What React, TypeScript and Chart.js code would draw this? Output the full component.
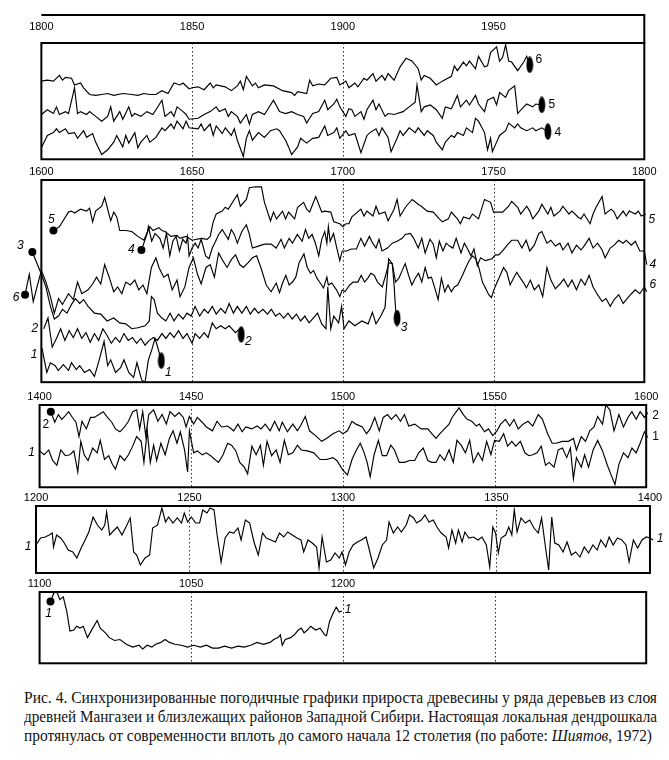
import React, { useEffect, useLayoutEffect, useRef } from "react";
import { Chart, registerables } from "chart.js";

Chart.register(...registerables);

type Pt = [number, number];

// ---------- Panel 1 : 1800–1968 (series 6, 5, 4) ----------
const P1_TICKS = [1800, 1850, 1900, 1950];
const P1_TICK_LABELS = ["1800", "1850", "1900", "1950"];
const P1_GRID = [1850, 1900];
const P1_S6: Pt[] = [[1800,82],[1802,83],[1804,82],[1806,88],[1807,83],[1808,86],[1810,85],[1811,78],[1813,80],[1814,75],[1816,68],[1818,67],[1820,68],[1822,69],[1824,67],[1827,69],[1830,68],[1832,67],[1834,69],[1836,68],[1838,68],[1840,72],[1842,69],[1844,80],[1846,78],[1847,80],[1849,74],[1850,75],[1852,76],[1854,73],[1856,80],[1857,75],[1858,78],[1861,76],[1863,72],[1865,77],[1866,82],[1867,73],[1868,87],[1870,77],[1871,80],[1872,75],[1874,78],[1877,77],[1880,72],[1883,70],[1884,67],[1885,71],[1888,69],[1889,83],[1890,77],[1892,79],[1894,78],[1896,85],[1898,86],[1899,78],[1901,82],[1902,75],[1904,80],[1905,76],[1907,85],[1908,83],[1910,90],[1911,82],[1913,88],[1914,83],[1915,90],[1917,83],[1919,97],[1921,106],[1923,103],[1925,95],[1926,83],[1927,88],[1929,85],[1931,78],[1933,82],[1936,87],[1937,98],[1938,93],[1940,102],[1941,98],[1942,103],[1944,95],[1945,108],[1947,97],[1948,98],[1949,112],[1951,118],[1952,103],[1953,107],[1954,120],[1955,103],[1956,102],[1958,93],[1960,102],[1961,108],[1962,99]];
const P1_S5: Pt[] = [[1800,47],[1802,52],[1804,48],[1805,55],[1806,47],[1808,50],[1809,48],[1811,75],[1812,48],[1813,50],[1815,47],[1816,50],[1818,45],[1820,40],[1822,45],[1823,55],[1824,40],[1826,50],[1827,42],[1829,55],[1830,45],[1831,48],[1833,45],[1835,50],[1837,47],[1838,52],[1840,62],[1841,45],[1843,50],[1844,45],[1845,55],[1847,50],[1848,47],[1849,42],[1852,43],[1854,47],[1856,50],[1858,55],[1859,50],[1861,53],[1862,45],[1863,50],[1865,45],[1866,38],[1868,47],[1869,37],[1870,47],[1872,50],[1874,47],[1875,52],[1877,62],[1879,50],[1881,48],[1883,50],[1885,47],[1887,45],[1888,38],[1890,48],[1892,50],[1894,62],[1895,52],[1897,58],[1898,63],[1899,55],[1901,45],[1902,53],[1903,52],[1904,45],[1906,50],[1907,42],[1908,52],[1910,62],[1911,52],[1912,58],[1914,45],[1915,48],[1917,47],[1920,50],[1922,55],[1924,60],[1924.6,78],[1926,50],[1927,55],[1929,57],[1931,52],[1933,43],[1934,55],[1936,53],[1938,67],[1939,55],[1941,62],[1942,57],[1944,67],[1945,58],[1947,50],[1948,62],[1950,65],[1951,57],[1952,70],[1954,65],[1955,72],[1957,77],[1958,48],[1960,55],[1961,58],[1963,55],[1964,58],[1966,57]];
const P1_S4: Pt[] = [[1800,12],[1802,25],[1804,28],[1805,32],[1806,28],[1808,32],[1809,27],[1811,28],[1812,22],[1814,30],[1815,23],[1817,27],[1818,18],[1820,5],[1822,10],[1824,18],[1825,25],[1827,13],[1828,25],[1829,17],[1831,28],[1832,12],[1833,18],[1835,25],[1836,18],[1838,23],[1840,33],[1841,30],[1843,37],[1844,32],[1845,40],[1847,32],[1848,40],[1849,33],[1852,32],[1853,37],[1854,30],[1856,37],[1857,25],[1858,35],[1860,27],[1861,33],[1863,25],[1864,32],[1865,20],[1867,3],[1868,22],[1869,30],[1870,20],[1872,28],[1874,23],[1876,30],[1878,32],[1879,30],[1881,20],[1882,13],[1883,5],[1885,13],[1886,22],[1888,17],[1890,22],[1892,23],[1894,35],[1895,25],[1897,28],[1898,33],[1899,22],[1901,30],[1902,25],[1904,27],[1906,7],[1908,25],[1909,28],[1911,32],[1912,25],[1913,33],[1915,23],[1916,8],[1918,22],[1919,30],[1920,25],[1922,33],[1924,28],[1925,33],[1927,25],[1928,30],[1930,25],[1931,18],[1933,10],[1934,18],[1936,25],[1937,23],[1938,28],[1940,25],[1941,33],[1943,28],[1944,43],[1945,40],[1947,28],[1948,10],[1949,22],[1949.6,8],[1951,18],[1952,25],[1954,30],[1955,38],[1957,33],[1958,37],[1959,33],[1961,30],[1963,33],[1964,30],[1966,33],[1968,29]];

// ---------- Panel 2 : 1600–1800 (series 5, 4, 6, 3, 2, 1) ----------
const P2_TICKS = [1600, 1650, 1700, 1750, 1800];
const P2_TICK_LABELS = ["1600", "1650", "1700", "1750", "1800"];
const P2_GRID = [1650, 1700, 1750];
const P2_S5: Pt[] = [[1604,156],[1606,160],[1607,165],[1609,175],[1610,176],[1611,174],[1613,178],[1615,176],[1616,179],[1617,165],[1618,176],[1620,181],[1621,190],[1623,166],[1624,175],[1625,170],[1626,156],[1628,156],[1630,155],[1632,150],[1634,146],[1636,160],[1637,156],[1639,159],[1640,156],[1641,155],[1643,150],[1645,151],[1646,148],[1648,150],[1650,146],[1653,148],[1655,147],[1656,150],[1657,165],[1658,173],[1660,176],[1661,180],[1662,178],[1664,188],[1665,193],[1666,181],[1668,188],[1669,200],[1671,201],[1673,201],[1674,185],[1676,166],[1677,175],[1678,168],[1680,176],[1681,168],[1682,175],[1684,168],[1685,180],[1687,185],[1688,178],[1689,175],[1691,191],[1693,175],[1694,176],[1696,175],[1697,165],[1699,163],[1700,160],[1701,163],[1702,163],[1703,170],[1706,178],[1707,171],[1708,176],[1710,171],[1711,181],[1712,173],[1714,175],[1715,166],[1717,178],[1718,188],[1719,171],[1721,181],[1723,188],[1725,183],[1726,181],[1728,176],[1730,175],[1732,168],[1733,165],[1735,168],[1736,175],[1738,168],[1739,163],[1740,170],[1742,168],[1743,173],[1745,168],[1747,188],[1749,185],[1750,175],[1751,175],[1753,175],[1755,181],[1756,186],[1758,180],[1759,173],[1761,181],[1762,176],[1763,168],[1765,176],[1766,183],[1768,173],[1769,180],[1770,171],[1772,176],[1773,181],[1775,173],[1776,176],[1778,170],[1779,168],[1780,173],[1782,163],[1783,173],[1784,180],[1786,191],[1787,173],[1789,178],[1790,175],[1791,168],[1793,176],[1794,171],[1795,176],[1797,173],[1798,176],[1799,171],[1800.5,173]];
const P2_S4: Pt[] = [[1633.2,136],[1635,152],[1635.5,160],[1636.6,145],[1637.7,153],[1639.3,148],[1640.4,138],[1641.5,153],[1642.6,130],[1643.6,145],[1644.7,150],[1645.8,135],[1646.9,147],[1648,143],[1648.5,150],[1649,130],[1650,138],[1651,143],[1652,138],[1653,147],[1654.5,130],[1655.6,127],[1656.7,138],[1657.8,145],[1658.8,152],[1660,157],[1661,152],[1662,147],[1663,157],[1664,152],[1665,143],[1666.5,155],[1668,162],[1669,152],[1670,138],[1672,140],[1674,142],[1676.2,142],[1677.9,138],[1679.5,147],[1680.6,138],[1682.2,148],[1683.3,143],[1684.9,152],[1686.5,145],[1687.6,157],[1688.7,148],[1689.8,152],[1690.9,143],[1692,130],[1693,147],[1694,155],[1694.7,143],[1695.2,160],[1695.8,145],[1696.9,153],[1698,138],[1699,125],[1699.8,135],[1701.2,135],[1702.8,137],[1704.5,137],[1706,148],[1707.2,140],[1708.8,150],[1709.9,143],[1711,138],[1712,147],[1713,135],[1714.8,138],[1716.4,143],[1718,145],[1719.7,148],[1720.7,152],[1722.4,153],[1723.5,148],[1725,138],[1726.2,148],[1727.3,133],[1728.9,147],[1730,142],[1731,128],[1732,145],[1733.2,135],[1734.3,143],[1735.4,140],[1736.5,138],[1737.6,148],[1739.2,133],[1740.3,143],[1741.4,137],[1742.5,130],[1743.5,137],[1744.6,120],[1745.7,128],[1747.3,125],[1749.5,127],[1750.6,131],[1751.7,131],[1753,135],[1754.5,141],[1756,146],[1758,146],[1759.4,138],[1760.8,146],[1762,135],[1763.5,141],[1765,153],[1766,155],[1767.7,143],[1769,146],[1770.5,140],[1772,143],[1773,136],[1774.7,143],[1776,133],[1777.5,141],[1779,136],[1780,140],[1781.7,148],[1783,138],[1784.5,143],[1786,136],[1787,128],[1788.7,138],[1790,141],[1791.5,146],[1793,143],[1794,146],[1795.7,141],[1797,145],[1798.5,135],[1800,135],[1800.8,121]];
const P2_S6: Pt[] = [[1594.6,90],[1596,111],[1597.3,83],[1600,115],[1601.5,103],[1603,88],[1604.3,71],[1605.7,86],[1607,80],[1609,91],[1610.6,85],[1612,103],[1613.4,91],[1615.5,95],[1617,101],[1618.3,108],[1619.7,101],[1621,121],[1622.5,108],[1624,93],[1625.3,98],[1626.7,91],[1628,103],[1629.5,100],[1631,105],[1632.3,95],[1633.7,100],[1635,91],[1636.5,118],[1638,128],[1639,118],[1640.6,108],[1642,111],[1643.4,95],[1645,105],[1646,88],[1647.6,98],[1649,118],[1650.4,128],[1651.8,111],[1653,101],[1654.6,118],[1656,121],[1657.4,108],[1658.8,133],[1660.2,125],[1661.6,118],[1663,126],[1664.4,131],[1665.8,121],[1667,118],[1668.6,123],[1670,128],[1671.4,130],[1672.8,118],[1674.6,100],[1676.2,93],[1677.9,102],[1679,92],[1680,102],[1681.1,110],[1682.2,100],[1683.3,103],[1684.4,108],[1685.5,123],[1687.1,132],[1688.2,118],[1689.3,112],[1690.3,115],[1691.4,107],[1692.5,102],[1693.6,97],[1694.7,108],[1695.2,100],[1696.3,102],[1697.9,95],[1699,88],[1699.8,95],[1700.7,93],[1702.3,100],[1703.4,103],[1705,103],[1706.1,110],[1707.2,103],[1708.3,107],[1709.3,112],[1710.4,110],[1711.5,103],[1713.1,98],[1714.2,110],[1715.3,123],[1716.4,122],[1717.5,103],[1718.6,107],[1719.7,115],[1720.7,122],[1721.8,110],[1722.9,100],[1724,107],[1725.1,112],[1726.2,103],[1727.3,118],[1728.3,107],[1729.4,108],[1730.5,97],[1731.6,85],[1732.7,107],[1733.8,93],[1734.9,100],[1736,93],[1737,98],[1738.1,100],[1739.7,110],[1740.8,118],[1741.9,125],[1743,130],[1744.1,127],[1745.2,117],[1746.3,103],[1747.3,97],[1748.4,90],[1749.3,87],[1750.1,95],[1751.2,103],[1752.2,110],[1753.3,118],[1754.4,113],[1755.5,100],[1756.6,107],[1757.7,113],[1758.7,108],[1759.8,103],[1760.9,97],[1762.2,105],[1763.5,95],[1765,100],[1766.3,88],[1767.7,118],[1769,105],[1770.5,96],[1772,101],[1773.3,106],[1774.7,98],[1776,105],[1777.5,95],[1779,106],[1780.3,100],[1781.7,110],[1783,98],[1784.5,90],[1786,83],[1787.3,86],[1788.7,78],[1790,85],[1791.5,90],[1793,81],[1794.3,86],[1795.7,91],[1797,95],[1798.5,91],[1800,98],[1800.8,93]];
const P2_S3: Pt[] = [[1597,134],[1598.7,121],[1600,111],[1601.5,98],[1603,78],[1604.3,65],[1605.7,68],[1607,75],[1608.5,71],[1610,80],[1611.3,86],[1612.7,81],[1614,85],[1615.5,78],[1617.6,71],[1619.7,70],[1621.8,63],[1624,66],[1626,61],[1628,60],[1630,55],[1632,56],[1634.4,58],[1635.8,63],[1636.5,88],[1637.4,85],[1638.5,71],[1640,66],[1641.3,63],[1642.7,71],[1644,63],[1645.5,70],[1647,65],[1648.3,71],[1649.7,68],[1651,78],[1652.5,68],[1654,75],[1655.3,71],[1656.7,78],[1658,70],[1659.5,76],[1661,71],[1662.3,81],[1663.7,71],[1665,78],[1666.5,71],[1668,78],[1669.3,70],[1670.7,76],[1672,71],[1673.5,75],[1675,70],[1676.3,75],[1677.7,68],[1679,71],[1680.4,66],[1681.8,71],[1683.2,65],[1684.6,70],[1686,63],[1687.4,68],[1688.8,61],[1690.2,66],[1691.6,71],[1693,60],[1694.4,55],[1695,98],[1696,55],[1697,68],[1698.6,61],[1699.6,78],[1700.4,55],[1702,63],[1704,58],[1706.3,63],[1708.4,60],[1709.8,72],[1711,60],[1712.6,68],[1714,77],[1715.2,127],[1716.4,122],[1717,100],[1717.5,75],[1718,66]];
const P2_S2: Pt[] = [[1600.8,55],[1602.2,66],[1603.6,36],[1605,45],[1606.4,55],[1607.8,43],[1609.2,53],[1610.6,46],[1612,55],[1613.4,45],[1614.8,51],[1616.2,41],[1617.6,50],[1619,43],[1620.4,55],[1621.8,48],[1623.2,40],[1624.6,46],[1626,41],[1627.4,50],[1628.8,43],[1630.2,46],[1631.6,40],[1633,45],[1634.4,38],[1635.8,43],[1637.2,46],[1638.5,43],[1640,50],[1641.3,45],[1642.7,51],[1644,46],[1645.5,53],[1647,45],[1648.3,50],[1650,40],[1651,50],[1652.5,45],[1654,51],[1655.3,46],[1656.7,61],[1658,55],[1659.5,58],[1661,55],[1662.3,58],[1664.4,51],[1665.8,55],[1666.3,49]];
const P2_S1: Pt[] = [[1600.2,35],[1601.8,10],[1603,20],[1604.6,17],[1605.6,12],[1607.3,18],[1609,12],[1610,20],[1611.6,13],[1612.7,17],[1614.3,10],[1616,13],[1617.6,6],[1619.2,23],[1620.8,42],[1622,17],[1623,23],[1624.6,10],[1626.3,15],[1627.4,23],[1629,10],[1630.6,5],[1631.7,20],[1633.3,2],[1634.4,0],[1635.5,23],[1636.6,33],[1637.7,45],[1638.4,38],[1639.8,22]];

// ---------- Panel 3 : 1400–1600 (series 2, 1) ----------
const P3_TICKS = [1400, 1450, 1500, 1550, 1600];
const P3_TICK_LABELS = ["1400", "1450", "1500", "1550", "1600"];
const P3_GRID = [1450, 1500, 1550];
const P3_S2: Pt[] = [[1403.7,79],[1405,68],[1406.2,76],[1407.3,71],[1408.5,75],[1409.6,79],[1410.6,74],[1412,68],[1413,53],[1414,69],[1415.4,61],[1416.8,73],[1418,73],[1419.6,76],[1421,79],[1422.4,73],[1423.8,68],[1425,61],[1426.5,58],[1428,63],[1429.3,69],[1430.7,79],[1432,81],[1433,61],[1434,79],[1435,54],[1436,76],[1437.6,81],[1439,69],[1440.4,76],[1441.8,66],[1443,79],[1444.6,74],[1446,78],[1447.4,73],[1448.3,63],[1449.4,74],[1450.8,66],[1452,73],[1453.6,68],[1455,63],[1457,59],[1458.5,69],[1460,63],[1462,64],[1464,59],[1465.4,66],[1466.8,58],[1468,63],[1470,61],[1471.7,64],[1473,61],[1474.4,66],[1476,59],[1477.5,69],[1479,59],[1480,68],[1481.7,58],[1483.5,66],[1485,59],[1486,64],[1487.6,74],[1489,59],[1491,54],[1493,48],[1494.6,51],[1496.7,56],[1498.8,59],[1500,56],[1501.5,59],[1503,69],[1504.3,66],[1506.4,63],[1507.8,56],[1509,61],[1510.5,73],[1512,59],[1513.3,73],[1514.7,76],[1516,71],[1517.5,76],[1519,69],[1520.3,76],[1521.7,64],[1523.7,66],[1525.8,61],[1528,61],[1529.3,56],[1530.7,51],[1532,56],[1533.5,61],[1535,66],[1536,73],[1538.3,83],[1539.7,76],[1541,71],[1542.5,69],[1544,64],[1545,66],[1546.7,58],[1548,61],[1549.4,54],[1550.8,59],[1552,66],[1553.6,71],[1555,64],[1556.4,71],[1557.8,61],[1559.4,66],[1561,69],[1562.6,64],[1564.4,76],[1565.8,71],[1567.5,56],[1569,46],[1570.3,46],[1572.4,48],[1574.4,48],[1576,51],[1577,39],[1578.6,53],[1580,48],[1581.4,59],[1582.8,63],[1584,74],[1585.6,66],[1586.7,86],[1588,81],[1589.4,59],[1591,76],[1592.5,63],[1594,73],[1595.3,79],[1596.7,71],[1598,79],[1599.4,73],[1600.5,78]];
const P3_S1: Pt[] = [[1400,38],[1401.5,34],[1403,39],[1404.3,28],[1405.7,23],[1407,39],[1408.5,33],[1410,34],[1411.3,38],[1412.6,16],[1413.6,48],[1414.7,34],[1416,28],[1417.5,41],[1419,36],[1420,49],[1421.4,29],[1422.8,33],[1424,24],[1425,19],[1426.5,33],[1428,28],[1429.3,34],[1430.7,43],[1432,53],[1433.5,48],[1434.4,26],[1435.5,59],[1436.5,26],[1437.6,44],[1438.6,28],[1440,46],[1441.4,34],[1442.8,51],[1444,59],[1445.3,46],[1446.4,58],[1447.8,39],[1448.8,16],[1449.4,59],[1450.8,36],[1452,38],[1453.6,34],[1455,36],[1456.4,33],[1457.8,29],[1459,26],[1460.5,34],[1462,46],[1463.3,44],[1464.7,38],[1466,26],[1467.5,21],[1468.6,14],[1470,43],[1471.4,34],[1472.8,44],[1473.8,23],[1475,48],[1476.5,33],[1478,39],[1479.3,26],[1480.7,49],[1482,34],[1483.5,36],[1485,44],[1486.3,39],[1488.3,38],[1490.4,36],[1492.5,29],[1494.6,29],[1496.7,31],[1498,28],[1500,18],[1501.5,13],[1503,29],[1504.3,38],[1505.7,46],[1506.8,38],[1508,26],[1509,11],[1510.3,34],[1511.7,49],[1513,33],[1514.4,33],[1515.8,44],[1517,39],[1518.6,26],[1520.3,26],[1522,28],[1523.7,28],[1525,36],[1526.5,41],[1528,28],[1529.3,26],[1530.7,26],[1532,34],[1533.5,28],[1535,39],[1536.4,26],[1537.6,49],[1539,44],[1540.4,36],[1541.8,49],[1543,26],[1544.6,36],[1546,28],[1547.4,48],[1548.8,34],[1550,49],[1551.6,48],[1553,56],[1554.3,43],[1555.7,48],[1557,43],[1558.5,48],[1560,36],[1561.3,33],[1562.6,34],[1564,36],[1565.4,43],[1566.8,23],[1568,26],[1569.6,21],[1571,39],[1572.4,41],[1573.8,31],[1575,41],[1576,9],[1577,31],[1578.6,21],[1579.7,34],[1581,21],[1582.5,39],[1584,49],[1585.6,38],[1587.2,23],[1588.3,14],[1589.7,3],[1591,24],[1592.5,36],[1594,31],[1595.3,41],[1596.7,36],[1598,46],[1599.4,58],[1600.5,52]];

// ---------- Panel 4 : 1200–1400 (series 1) ----------
const P4_TICKS = [1200, 1250, 1300, 1350, 1400];
const P4_TICK_LABELS = ["1200", "1250", "1300", "1350", "1400"];
const P4_GRID = [1250, 1300, 1350];
const P4_S1: Pt[] = [[1200,28],[1201.5,35],[1203,36],[1204.3,38],[1205.3,40],[1205.7,26],[1206.7,38],[1208,35],[1209,31],[1210.5,23],[1212,21],[1213.3,15],[1214.7,25],[1216,33],[1217.2,41],[1218.6,56],[1220,48],[1221.4,43],[1222.4,48],[1223,61],[1224,38],[1225.5,43],[1226.5,46],[1228,38],[1229.3,46],[1230.7,55],[1231.8,21],[1232.8,18],[1234,8],[1235.5,15],[1237,18],[1238,45],[1239.6,48],[1241,65],[1242.2,51],[1243.2,56],[1244.6,50],[1246,55],[1247.4,50],[1248.3,60],[1249.4,51],[1250.6,56],[1252,50],[1253.3,50],[1254.3,63],[1255.7,60],[1256.7,65],[1258,63],[1259,38],[1260.3,11],[1261.6,35],[1263,41],[1264.4,40],[1265.8,45],[1266.8,33],[1268.2,53],[1269.6,50],[1271,31],[1272.4,18],[1273.8,40],[1275,35],[1276.5,33],[1278,31],[1279.3,40],[1280.7,36],[1282,41],[1283.5,38],[1285,35],[1286.3,33],[1287.2,21],[1288.6,33],[1290,30],[1291.4,26],[1292.2,5],[1293.2,36],[1294.6,11],[1296,13],[1297.4,20],[1298.8,15],[1299.7,21],[1300.8,8],[1302,21],[1303.3,28],[1304.7,31],[1306,33],[1307.5,36],[1308.6,23],[1310,5],[1311.4,15],[1312.8,28],[1314.2,33],[1315,51],[1316.4,40],[1317.8,46],[1319,41],[1320.6,48],[1321.7,58],[1323,55],[1324,50],[1325.5,53],[1326.7,58],[1328,51],[1329.4,53],[1330.8,45],[1332,40],[1333.6,36],[1334.4,25],[1335.5,43],[1336.7,30],[1337.6,43],[1338.8,31],[1339.7,41],[1341,35],[1342.5,36],[1344,33],[1345.3,36],[1346.7,28],[1347.8,6],[1348.8,46],[1349.7,40],[1350.6,20],[1351.5,35],[1353,38],[1354,46],[1355,38],[1355.8,63],[1356.7,41],[1358,55],[1359.4,50],[1360.8,53],[1362.2,45],[1363.6,40],[1364.7,55],[1366,25],[1367,3],[1368,56],[1369,30],[1370.3,28],[1371.7,21],[1373,31],[1374.4,18],[1375.8,21],[1377.2,16],[1378.6,26],[1380,20],[1381.4,28],[1382.8,23],[1384,33],[1385.6,26],[1386.7,36],[1388,28],[1389.4,35],[1390.8,33],[1392.2,28],[1393.2,11],[1394.6,33],[1396,25],[1397.4,33],[1398.8,36],[1400,35],[1401,33]];

// ---------- Panel 5 : 1100–1200 (series 1) ----------
const P5_TICKS = [1100, 1150, 1200];
const P5_TICK_LABELS = ["1100", "1050", "1200"];
const P5_GRID = [1150, 1200, 1250];
const P5_S1: Pt[] = [[1103.6,65],[1104.7,74],[1105.7,75],[1106.7,67],[1107.8,70],[1109,54],[1110,34],[1111.3,35],[1112.2,39],[1113.3,37],[1114.4,39],[1115.8,27],[1117.5,37],[1119,45],[1120,37],[1121.7,32],[1123,27],[1124.7,24],[1126.5,25],[1128.6,20],[1130.7,17],[1132.8,19],[1134,15],[1135.5,19],[1137,17],[1138.3,20],[1140,22],[1141.4,25],[1142.8,22],[1144.6,20],[1146.7,19],[1148.8,17],[1150.8,19],[1153,17],[1155,19],[1157,16],[1159,16],[1161,18],[1163.3,16],[1165.4,18],[1167.5,17],[1169.6,19],[1171.7,22],[1173.8,20],[1176,22],[1177.2,25],[1178.6,27],[1179.4,30],[1180,19],[1181,25],[1182.8,27],[1184,30],[1185.3,35],[1186.3,37],[1187.2,32],[1188.3,35],[1189.4,39],[1191,35],[1192.5,37],[1194,30],[1194.6,29],[1195.6,44],[1196.7,52],[1197.8,59],[1198.8,54],[1199.7,55]];

const CAPTION_1 = "Рис. 4. Синхронизированные погодичные графики прироста древесины у ряда деревьев из слоя";
const CAPTION_2 = "древней Мангазеи и близлежащих районов Западной Сибири. Настоящая локальная дендрошкала";
const CAPTION_3A = "протянулась от современности вплоть до самого начала 12 столетия (по работе: ";
const CAPTION_3B = "Шиятов";
const CAPTION_3C = ", 1972)";

// ---------- layout / style config ----------
interface SeriesCfg { data: Pt[]; startDot?: boolean; endEllipse?: boolean }
interface LabelCfg { series: number; at: "start" | "end"; dx: number; dy: number; text: string; italic: boolean }
interface PanelCfg {
  start: number; ticks: number[]; tickLabels: string[]; grid: number[];
  series: SeriesCfg[]; labels: LabelCfg[];
  frameTop: number; frameHeight: number; axisHeight: number; tickPadding: number; header?: number;
}

const SPAN = 200;
const LEFT_PAD_YEARS = 11.73;
const RIGHT_PAD_YEARS = 6.2;
const BOTTOM_EXTRA = 6;
const W = 669;

const PANELS: PanelCfg[] = [
  {
    start: 1800, ticks: P1_TICKS, tickLabels: P1_TICK_LABELS, grid: P1_GRID,
    series: [{ data: P1_S6, endEllipse: true }, { data: P1_S5, endEllipse: true }, { data: P1_S4, endEllipse: true }],
    labels: [
      { series: 0, at: "end", dx: 9, dy: -5, text: "6", italic: false },
      { series: 1, at: "end", dx: 10, dy: 0, text: "5", italic: false },
      { series: 2, at: "end", dx: 10, dy: 1, text: "4", italic: false },
    ],
    frameTop: 43, frameHeight: 122, axisHeight: 33, tickPadding: 9, header: 28,
  },
  {
    start: 1600, ticks: P2_TICKS, tickLabels: P2_TICK_LABELS, grid: P2_GRID,
    series: [
      { data: P2_S5, startDot: true }, { data: P2_S4, startDot: true }, { data: P2_S6, startDot: true },
      { data: P2_S3, startDot: true, endEllipse: true }, { data: P2_S2, endEllipse: true }, { data: P2_S1, endEllipse: true },
    ],
    labels: [
      { series: 0, at: "start", dx: -2, dy: -11, text: "5", italic: true },
      { series: 0, at: "end", dx: 6, dy: 6, text: "5", italic: true },
      { series: 1, at: "start", dx: -10, dy: 0, text: "4", italic: true },
      { series: 1, at: "end", dx: 6, dy: 0, text: "4", italic: true },
      { series: 2, at: "start", dx: -9, dy: 3, text: "6", italic: true },
      { series: 2, at: "end", dx: 6, dy: -7, text: "6", italic: true },
      { series: 3, at: "start", dx: -12, dy: -6, text: "3", italic: true },
      { series: 3, at: "end", dx: 7, dy: 10, text: "3", italic: true },
      { series: 4, at: "start", dx: -9, dy: 0, text: "2", italic: true },
      { series: 4, at: "end", dx: 7, dy: 7, text: "2", italic: true },
      { series: 5, at: "start", dx: -8, dy: 7, text: "1", italic: true },
      { series: 5, at: "end", dx: 7, dy: 12, text: "1", italic: true },
    ],
    frameTop: 180, frameHeight: 208, axisHeight: 18, tickPadding: 1,
  },
  {
    start: 1400, ticks: P3_TICKS, tickLabels: P3_TICK_LABELS, grid: P3_GRID,
    series: [{ data: P3_S2, startDot: true }, { data: P3_S1 }],
    labels: [
      { series: 0, at: "start", dx: -5, dy: 13, text: "2", italic: false },
      { series: 0, at: "end", dx: 8, dy: 3, text: "2", italic: false },
      { series: 1, at: "start", dx: -8, dy: 2, text: "1", italic: true },
      { series: 1, at: "end", dx: 8, dy: -1, text: "1", italic: false },
    ],
    frameTop: 405, frameHeight: 86, axisHeight: 18, tickPadding: 1,
  },
  {
    start: 1200, ticks: P4_TICKS, tickLabels: P4_TICK_LABELS, grid: P4_GRID,
    series: [{ data: P4_S1 }],
    labels: [
      { series: 0, at: "start", dx: -8, dy: 2, text: "1", italic: true },
      { series: 0, at: "end", dx: 7, dy: -1, text: "1", italic: true },
    ],
    frameTop: 506, frameHeight: 67, axisHeight: 18, tickPadding: 1,
  },
  {
    start: 1100, ticks: P5_TICKS, tickLabels: P5_TICK_LABELS, grid: P5_GRID,
    series: [{ data: P5_S1, startDot: true }],
    labels: [
      { series: 0, at: "start", dx: -2, dy: 12, text: "1", italic: true },
      { series: 0, at: "end", dx: 6, dy: -1, text: "1", italic: true },
    ],
    frameTop: 592, frameHeight: 75, axisHeight: 18, tickPadding: 1,
  },
];

let ellipseImg: HTMLCanvasElement | null = null;
function getEllipse(): HTMLCanvasElement {
  if (ellipseImg) return ellipseImg;
  const c = document.createElement("canvas");
  c.width = 8; c.height = 17;
  const ctx = c.getContext("2d")!;
  ctx.fillStyle = "#000";
  ctx.beginPath();
  ctx.ellipse(4, 8.5, 3.4, 8.2, 0, 0, Math.PI * 2);
  ctx.fill();
  ellipseImg = c;
  return c;
}

function Panel({ cfg }: { cfg: PanelCfg }) {
  const ref = useRef<HTMLCanvasElement>(null);
  const height = cfg.axisHeight + cfg.frameHeight + BOTTOM_EXTRA;
  const top = cfg.frameTop - cfg.axisHeight;

  useEffect(() => {
    if (!ref.current) return;
    const ell = getEllipse();
    const datasets = cfg.series.map((s) => {
      const n = s.data.length;
      return {
        data: s.data.map(([x, y]) => ({ x, y })),
        borderColor: "#000",
        borderWidth: 1.15,
        tension: 0,
        clip: false as const,
        pointBackgroundColor: "#000",
        pointBorderColor: "#000",
        pointBorderWidth: 0,
        pointRadius: (c: any) => (c.dataIndex === 0 && s.startDot ? 4 : c.dataIndex === n - 1 && s.endEllipse ? 6 : 0),
        pointStyle: (c: any) => (c.dataIndex === n - 1 && s.endEllipse ? ell : "circle"),
      };
    });

    const decor = {
      id: "decor",
      beforeDatasetsDraw(chart: any) {
        const { ctx } = chart;
        const xs = chart.scales.x, ys = chart.scales.y;
        const yt = ys.getPixelForValue(cfg.frameHeight), yb = ys.getPixelForValue(0);
        ctx.save();
        ctx.strokeStyle = "#333";
        ctx.lineWidth = 1;
        ctx.setLineDash([1.5, 2.5]);
        for (const g of cfg.grid) {
          const x = Math.round(xs.getPixelForValue(g)) + 0.5;
          ctx.beginPath(); ctx.moveTo(x, yt); ctx.lineTo(x, yb); ctx.stroke();
        }
        ctx.restore();
      },
      afterDatasetsDraw(chart: any) {
        const { ctx } = chart;
        const xs = chart.scales.x, ys = chart.scales.y;
        const yt = ys.getPixelForValue(cfg.frameHeight), yb = ys.getPixelForValue(0);
        const xl = xs.getPixelForValue(cfg.start), xr = xs.getPixelForValue(cfg.start + SPAN);
        ctx.save();
        ctx.strokeStyle = "#000";
        ctx.lineWidth = 2;
        ctx.strokeRect(xl, yt, xr - xl, yb - yt);
        if (cfg.header) {
          ctx.beginPath();
          ctx.moveTo(xl, yt - cfg.header);
          ctx.lineTo(xr, yt - cfg.header);
          ctx.lineTo(xr, yt);
          ctx.stroke();
        }
        ctx.fillStyle = "#000";
        ctx.textAlign = "center";
        ctx.textBaseline = "middle";
        for (const l of cfg.labels) {
          const meta = chart.getDatasetMeta(l.series);
          const el = meta.data[l.at === "start" ? 0 : meta.data.length - 1];
          ctx.font = `${l.italic ? "italic " : ""}12px 'Liberation Sans', Arial, sans-serif`;
          ctx.fillText(l.text, el.x + l.dx, el.y + l.dy);
        }
        ctx.restore();
      },
    };

    const chart = new Chart(ref.current, {
      type: "line",
      data: { datasets },
      options: {
        responsive: false,
        animation: false,
        events: [],
        layout: { padding: 0 },
        plugins: { legend: { display: false }, tooltip: { enabled: false } },
        scales: {
          x: {
            type: "linear",
            position: "top",
            min: cfg.start - LEFT_PAD_YEARS,
            max: cfg.start + SPAN + RIGHT_PAD_YEARS,
            grid: { display: false, drawTicks: false },
            border: { display: false },
            ticks: {
              autoSkip: false,
              maxRotation: 0,
              padding: cfg.tickPadding,
              color: "#000",
              font: { family: "'Liberation Sans', Arial, sans-serif", size: 11 },
              callback: (_v: any, i: number) => cfg.tickLabels[i],
            },
            afterBuildTicks: (axis: any) => {
              axis.ticks = cfg.ticks.map((v) => ({ value: v }));
            },
            afterFit: (axis: any) => {
              axis.height = cfg.axisHeight;
            },
          },
          y: {
            type: "linear",
            display: false,
            min: -BOTTOM_EXTRA,
            max: cfg.frameHeight,
          },
        },
      } as any,
      plugins: [decor],
    });
    return () => chart.destroy();
  }, [cfg]);

  return (
    <canvas
      ref={ref}
      width={W}
      height={height}
      style={{ position: "absolute", left: 0, top, width: W, height }}
    />
  );
}

function CaptionLine({ top, width, children }: { top: number; width: number; children: React.ReactNode }) {
  const ref = useRef<HTMLSpanElement>(null);
  useLayoutEffect(() => {
    const el = ref.current;
    if (!el) return;
    el.style.transform = "none";
    const w = el.getBoundingClientRect().width;
    if (w > 0) el.style.transform = `scaleX(${width / w})`;
  }, [width]);
  return (
    <div style={{ position: "absolute", left: 24, top, whiteSpace: "nowrap", lineHeight: "19px" }}>
      <span
        ref={ref}
        style={{
          display: "inline-block",
          transformOrigin: "0 0",
          fontFamily: "'Liberation Serif', 'Times New Roman', serif",
          fontSize: 16,
          color: "#111",
        }}
      >
        {children}
      </span>
    </div>
  );
}

export default function App() {
  return (
    <div style={{ position: "absolute", left: 0, top: 0, width: W, height: 760, background: "#fff", overflow: "hidden" }}>
      {PANELS.map((p, i) => (
        <Panel key={i} cfg={p} />
      ))}
      <CaptionLine top={688} width={633}>{CAPTION_1}</CaptionLine>
      <CaptionLine top={707} width={633}>{CAPTION_2}</CaptionLine>
      <CaptionLine top={726} width={628}>
        {CAPTION_3A}
        <i>{CAPTION_3B}</i>
        {CAPTION_3C}
      </CaptionLine>
    </div>
  );
}
